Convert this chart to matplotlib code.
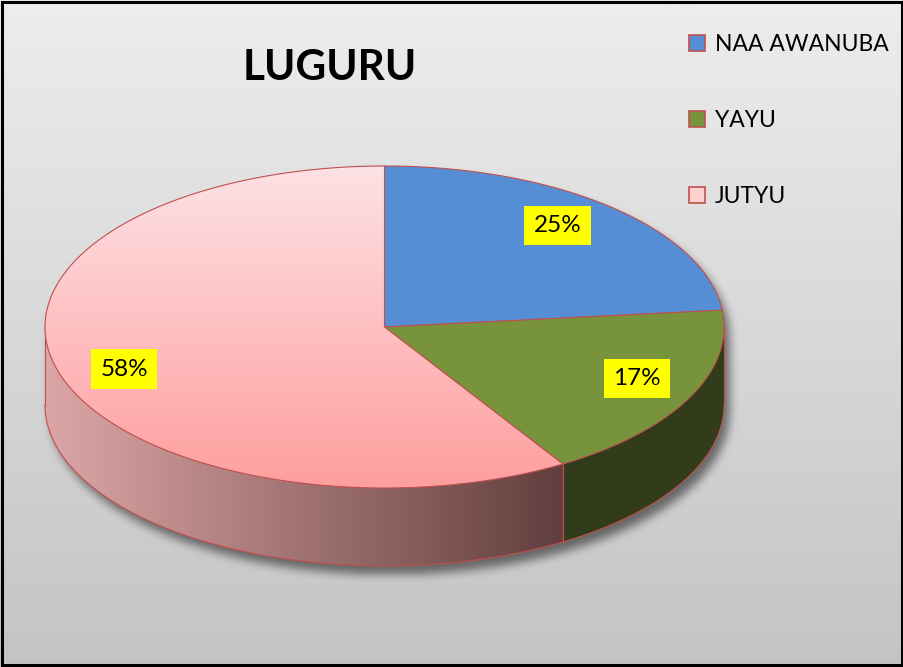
import numpy as np
import matplotlib
matplotlib.use('Agg')
import matplotlib.pyplot as plt
from matplotlib.patches import Polygon, Patch, Rectangle
from matplotlib.colors import LinearSegmentedColormap

# ---------------- data ----------------
categories = ['NAA AWANUBA', 'YAYU', 'JUTYU']
values = [25, 17, 58]
labels = ['25%', '17%', '58%']
title = 'LUGURU'

# ---------------- style ----------------
top_colors = ['#558ed5', '#77933c', None]          # pink top drawn with gradient
pink_top = ['#fde2e5', '#ff9e9e']
side_solid = ['#3a5a8a', '#323b1a', None]
pink_side = ['#dda6a6', '#633e3e']
edge_col = '#c0504d'
FONT = 'Lato'

W, H = 904, 667
fig = plt.figure(figsize=(W / 100, H / 100), dpi=100)
ax = fig.add_axes([0, 0, 1, 1])
ax.set_xlim(0, W)
ax.set_ylim(H, 0)
ax.axis('off')

# background gradient
grad = np.linspace(0, 1, 256)[:, None]
bg_cmap = LinearSegmentedColormap.from_list('bg', ['#ededed', '#c4c4c4'])
ax.imshow(grad, cmap=bg_cmap, extent=[0, W, H, 0], aspect='auto', zorder=0)

# geometry of the 3D pie (pixel space)
cx, cy = 384.5, 327.0
a, b = 339.5, 161.0
depth = 78.0
skew = 6.0
label_r = 0.81
label_shift = 3.0


def warp(t):
    return t + skew * np.cos(np.radians(t))


def pt(tp, r=1.0, z=0.0):
    tp = np.radians(tp)
    return cx + r * a * np.cos(tp), cy - r * b * np.sin(tp) + z


# shadow
yy, xx = np.mgrid[0:H, 0:W].astype(float)
sx, sy = 5.0, 8.0
X = xx - cx - sx
Y = yy - cy - sy
inside_top = (X / a) ** 2 + (Y / b) ** 2 <= 1
inside_bot = (X / a) ** 2 + ((Y - depth) / b) ** 2 <= 1
inside_mid = (np.abs(X) <= a) & (Y >= 0) & (Y <= depth)
mask = (inside_top | inside_bot | inside_mid).astype(float)


def box_blur(m, r, axis):
    c = np.cumsum(np.pad(m, [(r + 1, r) if i == axis else (0, 0) for i in range(2)], mode='edge'), axis=axis)
    if axis == 0:
        return (c[2 * r + 1:, :] - c[:-2 * r - 1, :]) / (2 * r + 1)
    return (c[:, 2 * r + 1:] - c[:, :-2 * r - 1]) / (2 * r + 1)


for _ in range(3):
    mask = box_blur(mask, 4, 0)
    mask = box_blur(mask, 4, 1)
shadow = np.zeros((H, W, 4))
shadow[..., 3] = mask * 0.5
ax.imshow(shadow, extent=[0, W, H, 0], aspect='auto', zorder=1)

# slices
starts, ends = [], []
s = 90.0
for v in values:
    e = s - v / sum(values) * 360
    starts.append(warp(s))
    ends.append(warp(e))
    s = e

# sides
for i, (ws, we) in enumerate(zip(starts, ends)):
    hi = min(ws, 0.0)
    lo = max(we, -180.0)
    if hi <= lo:
        continue
    t = np.linspace(hi, lo, 200)
    xt, yt = pt(t)
    xb, yb = pt(t[::-1], z=depth)
    poly_xy = np.column_stack([np.concatenate([xt, xb]), np.concatenate([yt, yb])])
    if side_solid[i] is not None and i != 2:
        ax.add_patch(Polygon(poly_xy, closed=True, facecolor=side_solid[i],
                             edgecolor='none', zorder=3))
    else:
        poly = Polygon(poly_xy, closed=True, facecolor='none', edgecolor='none', zorder=3)
        ax.add_patch(poly)
        cm = LinearSegmentedColormap.from_list('ps', pink_side)
        x0, x1 = xt.min(), xt.max()
        im = ax.imshow(np.linspace(0, 1, 256)[None, :], cmap=cm,
                       extent=[x0, x1, yb.max() + 2, yt.min() - 2], aspect='auto', zorder=3)
        im.set_clip_path(poly)
    ax.plot(xb, yb, color=edge_col, lw=0.8, zorder=4)
    for tt in (hi, lo):
        x0_, y0_ = pt(tt)
        ax.plot([x0_, x0_], [y0_, y0_ + depth], color=edge_col, lw=0.8, zorder=4)

# tops
for i, (ws, we) in enumerate(zip(starts, ends)):
    t = np.linspace(ws, we, 300)
    xt, yt = pt(t)
    poly_xy = np.column_stack([np.concatenate([[cx], xt]), np.concatenate([[cy], yt])])
    if top_colors[i] is not None:
        ax.add_patch(Polygon(poly_xy, closed=True, facecolor=top_colors[i],
                             edgecolor=edge_col, lw=0.8, zorder=5))
    else:
        poly = Polygon(poly_xy, closed=True, facecolor='none', edgecolor='none', zorder=5)
        ax.add_patch(poly)
        cm = LinearSegmentedColormap.from_list('pt', pink_top)
        im = ax.imshow(np.linspace(0, 1, 256)[:, None], cmap=cm,
                       extent=[cx - a - 2, cx + a + 2, cy + b + 2, cy - b - 2],
                       aspect='auto', zorder=5)
        im.set_clip_path(poly)
        ax.add_patch(Polygon(poly_xy, closed=True, facecolor='none',
                             edgecolor=edge_col, lw=0.8, zorder=6))

# labels
for i, (ws, we) in enumerate(zip(starts, ends)):
    mid = (ws + we) / 2 + label_shift
    lx, ly = pt(mid, r=label_r)
    ax.text(lx, ly, labels[i], ha='center', va='center', fontsize=17.5, family=FONT,
            color='black', zorder=8,
            bbox=dict(boxstyle='square,pad=0.38', facecolor='#ffff00', edgecolor='none'))

# title
ax.text(330, 68, title, ha='center', va='center', fontsize=30.5, fontweight='bold',
        family=FONT, color='black', zorder=8)

# legend
handles = [Patch(facecolor=top_colors[0], edgecolor=edge_col, lw=1.2),
           Patch(facecolor=top_colors[1], edgecolor=edge_col, lw=1.2),
           Patch(facecolor='#ffd0d0', edgecolor=edge_col, lw=1.2)]
leg = ax.legend(handles, categories, loc='upper left', bbox_to_anchor=(689, 34),
                bbox_transform=ax.transData, frameon=False,
                prop={'family': FONT, 'size': 16.5},
                handlelength=0.72, handleheight=0.72, handletextpad=0.4,
                labelspacing=2.4, borderpad=0, borderaxespad=0)
leg.set_zorder(9)

# border
fig.patches.append(Rectangle((2, 2), W - 4, H - 4, transform=None, fill=False,
                             edgecolor='black', lw=2.2))

fig.savefig('out.png', dpi=100)
